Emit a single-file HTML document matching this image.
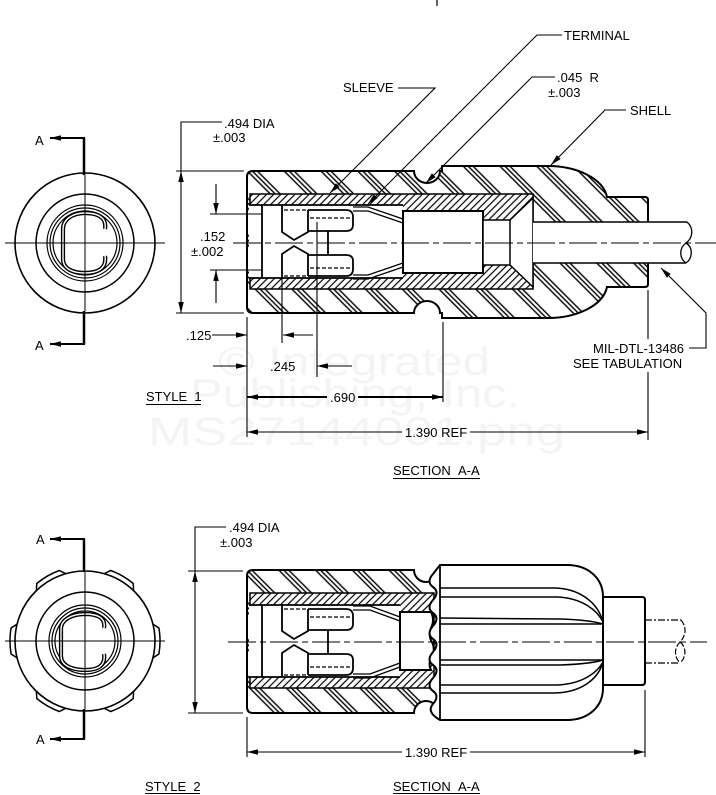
<!DOCTYPE html>
<html><head><meta charset="utf-8">
<style>
html,body{margin:0;padding:0;background:#fff;}
svg{display:block}
text{font-family:"Liberation Sans",Arial,sans-serif;font-size:13px;fill:#000;}
.wm{font-size:40px;fill:#f6f3f3;}
</style></head>
<body>
<svg width="716" height="795" viewBox="0 0 716 795" xmlns="http://www.w3.org/2000/svg">
<defs>
<pattern id="hb" width="26" height="10" patternUnits="userSpaceOnUse" patternTransform="rotate(-45)">
<rect width="26" height="10" fill="#fff"/>
<path d="M2,0V10M5.5,0V10M9,0V10" stroke="#000" stroke-width="1.4"/>
</pattern>
<pattern id="hs" width="5" height="10" patternUnits="userSpaceOnUse" patternTransform="rotate(45)">
<rect width="5" height="10" fill="#fff"/>
<path d="M1,0V10" stroke="#000" stroke-width="1.2"/>
</pattern>
<marker id="ah" viewBox="0 0 10 5" refX="10" refY="2.5" markerWidth="11" markerHeight="5.5" orient="auto" markerUnits="userSpaceOnUse"><path d="M0,0L10,2.5L0,5z" fill="#000"/></marker>
</defs>
<rect width="716" height="795" fill="#fff"/>

<!-- watermark -->
<text class="wm" x="218" y="375" textLength="272" lengthAdjust="spacingAndGlyphs">© Integrated</text>
<text class="wm" x="190" y="407" textLength="330" lengthAdjust="spacingAndGlyphs">Publishing, Inc.</text>
<text class="wm" x="148" y="445" textLength="417" lengthAdjust="spacingAndGlyphs">MS27144001.png</text>

<!-- top tick -->
<path d="M437,0V6" stroke="#000" stroke-width="1.2"/>

<!-- ================= STYLE 1 LEFT VIEW ================= -->
<g fill="none" stroke="#000">
<circle cx="85" cy="243" r="70" stroke-width="1.6"/>
<circle cx="85" cy="243" r="49" stroke-width="1.5"/>
<circle cx="85" cy="243" r="38" stroke-width="1.2"/>
<circle cx="85" cy="243" r="35" stroke-width="1.2"/>
<circle cx="85" cy="243" r="32" stroke-width="1.2"/>
<path d="M105,229 C107,217 97,213 85,213 C73,213 63,219 63,229 L63,259 C63,269 73,273 85,273 C97,273 107,269 105,256" stroke-width="4.2"/>
<path d="M105,229 C107,217 97,213 85,213 C73,213 63,219 63,229 L63,259 C63,269 73,273 85,273 C97,273 107,269 105,256" stroke="#fff" stroke-width="1.4"/>
<path d="M5,243H165" stroke-width="1"/>
<path d="M85,175V311" stroke-width="1"/>
<path d="M84,138V175M84,311V344" stroke-width="2.5"/>
<path d="M85,138H50" stroke-width="2" marker-end="url(#ah)"/>
<path d="M85,344H50" stroke-width="2" marker-end="url(#ah)"/>
</g>
<text x="35" y="145">A</text>
<text x="35" y="350">A</text>

<!-- ================= STYLE 1 SECTION ================= -->
<path d="M247,177 Q247,171 253,171 L414,171 A13,12 0 0 0 440,171 L442,171 L442,166 L548,166 C576,166 603,178 607,197 L645,197 Q648,197 648,200 L648,284 Q648,287 645,287 L607,287 C603,306 576,318 548,318 L442,318 L442,313 L440,313 A13,12 0 0 0 414,313 L253,313 Q247,313 247,307 Z" fill="url(#hb)" stroke="#000" stroke-width="2"/>
<rect x="250" y="194" width="283" height="95" fill="url(#hs)" stroke="#000" stroke-width="1.5"/>
<rect x="249" y="205" width="154" height="73" fill="#fff"/>
<path d="M249,205H403M249,278H403M262,205V278" stroke="#000" stroke-width="1.8" fill="none"/>
<rect x="403" y="211" width="80" height="62" fill="#fff" stroke="#000" stroke-width="2"/>
<polygon points="483,220 510,220 533,198 533,287 510,265 483,265" fill="#fff" stroke="#000" stroke-width="1.5"/>
<path d="M510,220V265" stroke="#000" stroke-width="1.5"/>
<rect x="533" y="222" width="154" height="41" fill="#fff"/>
<path d="M533,222H687M533,263H686" stroke="#000" stroke-width="1.6" fill="none"/>
<path d="M687,222 C694,228 693,238 686,243 C679,248 679,258 686,263 M686,243 C693,247 693,258 686,263" stroke="#000" stroke-width="1.3" fill="none"/>

<!-- contact style 1 -->
<g fill="none" stroke="#000">
<path d="M282,205V232L294,240L308,232V210M308,210H346Q353,210 353,217V225Q353,231 346,231H308M328,231V255M308,255H346Q353,255 353,261V269Q353,276 346,276H308M308,276V254L294,246L282,254V278" stroke-width="1.8"/>
<path d="M284,210H308M310,218H350M284,276H308M310,268H350" stroke-width="1.2" stroke-dasharray="4,2"/>
<path d="M353,207H368L403,219M353,211H368L403,223M353,279H368L403,267M353,275H368L403,263" stroke-width="1.3"/>
</g>

<!-- centerline style 1 -->
<path d="M233,243H716" stroke="#000" stroke-width="1.1" stroke-dasharray="28,4,6,4"/>

<!-- dimension .494 DIA style 1 -->
<g fill="none" stroke="#000" stroke-width="1.1">
<path d="M222,122H181V171"/>
<path d="M181,242V171" marker-end="url(#ah)"/>
<path d="M181,242V313" marker-end="url(#ah)"/>
<path d="M176,171H244M176,313H244"/>
<!-- .152 -->
<path d="M210,214H262M210,270H262"/>
<path d="M216,184V214" marker-end="url(#ah)"/>
<path d="M216,303V270" marker-end="url(#ah)"/>
<!-- extension lines -->
<path d="M247,317V437"/>
<path d="M282,278V343"/>
<path d="M317,222V377"/>
<path d="M443,322V402"/>
<path d="M648,290V339M648,372V440"/>
<!-- .125 -->
<path d="M212,335H247" marker-end="url(#ah)"/>
<path d="M313,335H283" marker-end="url(#ah)"/>
<!-- .245 -->
<path d="M213,366H247" marker-end="url(#ah)"/>
<path d="M352,366H317" marker-end="url(#ah)"/>
<!-- 1.390 REF -->
<path d="M402,432H247" marker-end="url(#ah)"/>
<path d="M470,432H648" marker-end="url(#ah)"/>
</g>
<g fill="none" stroke="#000" stroke-width="2">
<path d="M327,397H247" marker-end="url(#ah)"/>
<path d="M358,397H443" marker-end="url(#ah)"/>
</g>

<!-- leaders style 1 -->
<g fill="none" stroke="#000" stroke-width="1.1">
<path d="M562,35H537L368,204" marker-end="url(#ah)"/>
<path d="M398,88H435L330,193" marker-end="url(#ah)"/>
<path d="M555,77H532L426,183" marker-end="url(#ah)"/>
<path d="M626,110H605L551,165" marker-end="url(#ah)"/>
<path d="M689,348H706V313L661,268" marker-end="url(#ah)"/>
</g>

<text x="564" y="40">TERMINAL</text>
<text x="343" y="92">SLEEVE</text>
<text x="557" y="82">.045&#160;&#160;R</text>
<text x="548" y="97">±.003</text>
<text x="630" y="115">SHELL</text>
<text x="224" y="128">.494 DIA</text>
<text x="213" y="142">±.003</text>
<text x="200" y="241">.152</text>
<text x="191" y="256">±.002</text>
<text x="186" y="340">.125</text>
<text x="270" y="371">.245</text>
<text x="330" y="402">.690</text>
<text x="146" y="401">STYLE&#160;&#160;1</text>
<path d="M146,404.5H201" stroke="#000" stroke-width="1"/>
<text x="405" y="437">1.390 REF</text>
<text x="593" y="353">MIL-DTL-13486</text>
<text x="573" y="368">SEE TABULATION</text>
<text x="393" y="475">SECTION&#160;&#160;A-A</text>
<path d="M393,478.5H480" stroke="#000" stroke-width="1"/>

<!-- ================= STYLE 2 LEFT VIEW ================= -->
<g fill="none" stroke="#000">
<circle cx="85" cy="641" r="70" stroke-width="1.6"/>
<path d="M152.9,624.1 L158.9,628.0 A75,75 0 0 1 158.9,654.0 L152.9,657.9" stroke-width="1.5"/>
<path d="M133.6,691.4 L133.2,698.5 A75,75 0 0 1 110.7,711.5 L104.3,708.3" stroke-width="1.5"/>
<path d="M65.7,708.3 L59.3,711.5 A75,75 0 0 1 36.8,698.5 L36.4,691.4" stroke-width="1.5"/>
<path d="M17.1,657.9 L11.1,654.0 A75,75 0 0 1 11.1,628.0 L17.1,624.1" stroke-width="1.5"/>
<path d="M36.4,590.6 L36.8,583.5 A75,75 0 0 1 59.3,570.5 L65.7,573.7" stroke-width="1.5"/>
<path d="M104.3,573.7 L110.7,570.5 A75,75 0 0 1 133.2,583.5 L133.6,590.6" stroke-width="1.5"/>
<circle cx="85" cy="641" r="49" stroke-width="1.5"/>
<circle cx="85" cy="641" r="36" stroke-width="1.2"/>
<circle cx="85" cy="641" r="33" stroke-width="1.2"/>
<circle cx="85" cy="641" r="30" stroke-width="1.2"/>
<path d="M104,628 C106,617 96,614 85,614 C73,614 61,619 61,629 L61,656 C61,666 73,670 85,670 C96,670 106,667 104,654" stroke-width="4.2"/>
<path d="M104,628 C106,617 96,614 85,614 C73,614 61,619 61,629 L61,656 C61,666 73,670 85,670 C96,670 106,667 104,654" stroke="#fff" stroke-width="1.4"/>
<path d="M5,641H165" stroke-width="1"/>
<path d="M85,572V709" stroke-width="1"/>
<path d="M84,539V572M84,709V739" stroke-width="2.5"/>
<path d="M85,539H50" stroke-width="2" marker-end="url(#ah)"/>
<path d="M85,739H50" stroke-width="2" marker-end="url(#ah)"/>
</g>
<text x="36" y="544">A</text>
<text x="36" y="744">A</text>

<!-- ================= STYLE 2 SECTION ================= -->
<path d="M247,576 Q247,570 253,570 L414,570 A12,12 0 0 0 438,570 L440,570 L440,713 L438,713 A12,12 0 0 0 414,713 L253,713 Q247,713 247,707 Z" fill="url(#hb)" stroke="#000" stroke-width="2"/>
<rect x="250" y="593" width="184" height="95" fill="url(#hs)" stroke="#000" stroke-width="1.5"/>
<rect x="249" y="605" width="151" height="72" fill="#fff"/>
<path d="M249,605H400M249,677H400M262,605V677" stroke="#000" stroke-width="1.8" fill="none"/>
<path d="M400,612 L431,612 Q435,620 431,628 Q428,636 432,642 Q436,650 431,658 Q428,664 431,670 L400,670 Z" fill="#fff" stroke="#000" stroke-width="2"/>

<!-- contact style 2 -->
<g fill="none" stroke="#000">
<path d="M282,604V631L294,639L308,631V609M308,609H346Q353,609 353,616V624Q353,630 346,630H308M328,630V654M308,654H346Q353,654 353,660V668Q353,675 346,675H308M308,675V653L294,645L282,653V677" stroke-width="1.8"/>
<path d="M284,609H308M310,617H350M284,675H308M310,667H350" stroke-width="1.2" stroke-dasharray="4,2"/>
<path d="M353,606H370L400,617M353,610H370L400,621M353,678H370L400,667M353,674H370L400,663" stroke-width="1.3"/>
</g>

<!-- shell style 2 -->
<path d="M440,565 L567,565 C588,565 603,578 603,597 L603,688 C603,707 588,720 567,720 L440,720 Q426,712 433,704 T433,691 T433,678 T433,665 T433,652 T433,639 T433,626 T433,613 T433,600 T433,587 T433,574 L440,565 Z" fill="#fff" stroke="#000" stroke-width="2"/>
<path d="M440,566V719" stroke="#000" stroke-width="1.8"/>
<g fill="none" stroke="#000" stroke-width="1.5">
<path d="M440,588 L553,588 C580,588 598,603 603,622"/>
<path d="M440,597 L557,597 C582,598 597,610 603,622"/>
<path d="M440,618 L560,619 Q590,620 603,624"/>
<path d="M440,624 L603,624"/>
<path d="M440,660 L603,660"/>
<path d="M440,665 L560,665 Q590,664 603,660"/>
<path d="M440,685 L557,685 C582,684 597,673 603,662"/>
<path d="M440,693 L553,693 C580,693 598,680 603,662"/>
</g>
<path d="M603,597 L642,597 Q645,597 645,600 L645,682 Q645,685 642,685 L603,685 Z" fill="#fff" stroke="#000" stroke-width="2"/>
<g fill="none" stroke="#000" stroke-width="1.2">
<path d="M645,620H681M645,663H680" stroke-dasharray="7,2,2,2"/>
<path d="M681,620 C687,627 686,636 680,642 C674,648 674,657 680,663 M680,642 C686,646 687,657 680,663" stroke-dasharray="6,2"/>
</g>

<!-- centerline style 2 -->
<path d="M228,642H707" stroke="#000" stroke-width="1.1" stroke-dasharray="28,4,6,4"/>

<!-- dimensions style 2 -->
<g fill="none" stroke="#000" stroke-width="1.1">
<path d="M226,527H195V571"/>
<path d="M195,642V571" marker-end="url(#ah)"/>
<path d="M195,642V713" marker-end="url(#ah)"/>
<path d="M188,571H243M188,713H243"/>
<path d="M247,717V757"/>
<path d="M645,690V757"/>
<path d="M402,752H247" marker-end="url(#ah)"/>
<path d="M470,752H645" marker-end="url(#ah)"/>
</g>
<text x="229" y="532">.494 DIA</text>
<text x="220" y="547">±.003</text>
<text x="405" y="757">1.390 REF</text>
<text x="145" y="791">STYLE&#160;&#160;2</text>
<path d="M145,793.5H200" stroke="#000" stroke-width="1"/>
<text x="393" y="791">SECTION&#160;&#160;A-A</text>
<path d="M393,793.5H480" stroke="#000" stroke-width="1"/>
</svg>
</body></html>
